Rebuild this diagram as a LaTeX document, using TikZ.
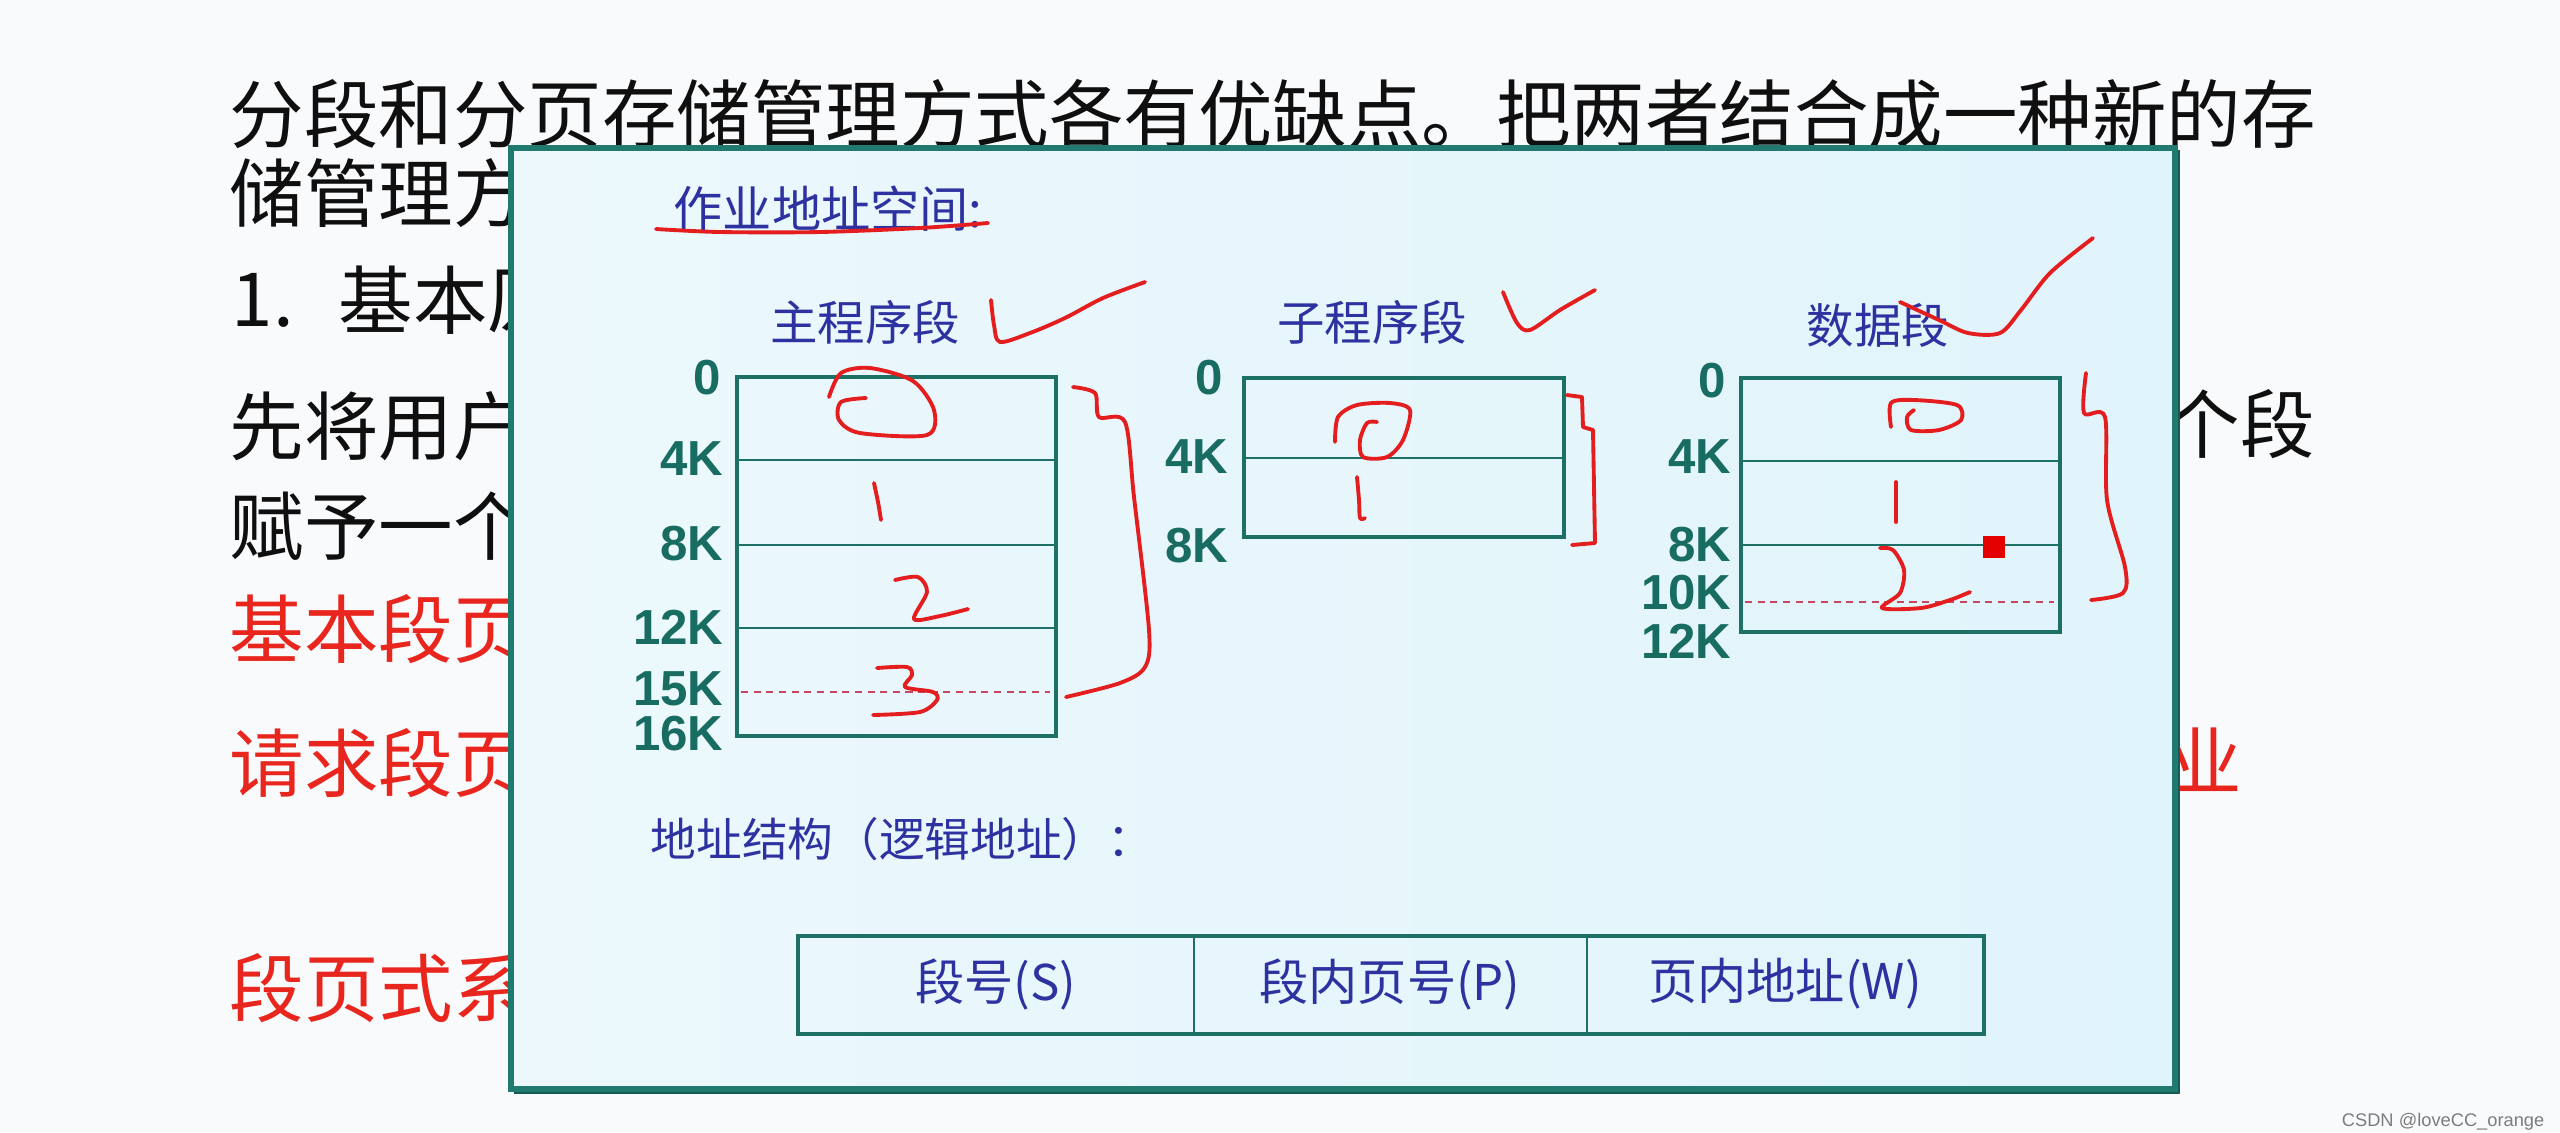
\documentclass[tikz,border=0pt]{standalone}
\usepackage{fontspec}
\setmainfont{Liberation Sans}
\newfontfamily\cjk{Noto Sans CJK SC}
\newfontfamily\lab{Liberation Sans}
\definecolor{pagebg}{RGB}{249,250,252}
\definecolor{txtblack}{RGB}{15,15,15}
\definecolor{txtred}{RGB}{232,38,30}
\definecolor{frameteal}{RGB}{32,122,112}
\definecolor{framedark}{RGB}{22,92,86}
\definecolor{boxfillL}{RGB}{236,248,252}
\definecolor{boxfillR}{RGB}{224,244,251}
\definecolor{segteal}{RGB}{28,112,102}
\definecolor{labteal}{RGB}{24,108,98}
\definecolor{inkblue}{RGB}{45,50,160}
\definecolor{inkred}{RGB}{228,30,30}
\definecolor{dashred}{RGB}{200,70,95}
\definecolor{wmgray}{RGB}{125,125,125}
\tikzset{
  maintext/.style={anchor=west, inner sep=0pt, font=\cjk\fontsize{21.2}{25}\selectfont, text=txtblack},
  redtext/.style={maintext, text=txtred},
  bluetext/.style={inner sep=0pt, font=\cjk\fontsize{13.5}{16}\selectfont, text=inkblue},
  tabtext/.style={inner sep=0pt, font=\cjk\fontsize{14}{16}\selectfont, text=inkblue},
  klabel/.style={anchor=east, inner sep=0pt, font=\lab\bfseries\fontsize{14}{16}\selectfont, text=labteal},
  segbox/.style={draw=segteal, line width=1.1pt},
  segline/.style={draw=segteal, line width=0.65pt},
  dashline/.style={draw=dashred, line width=0.5pt, dash pattern=on 2pt off 1.6pt},
  ink/.style={draw=inkred, line width=1.1pt, line cap=round, line join=round},
}
\begin{document}
\begin{tikzpicture}[x=0.1mm,y=-0.1mm]
\useasboundingbox (0,0) rectangle (2560,1132);
\fill[pagebg] (0,0) rectangle (2560,1132);

% background slide text
\node[maintext] (l1) at (229,114) {分段和分页存储管理方式各有优缺点。把两者结合成一种新的存};
\node[maintext] (l2) at (229,193) {储管理方式};
\node[maintext] (l3a) at (231,300) {1.};
\node[maintext] (l3b) at (338,300) {基本原};
\node[maintext] (l4) at (229,426) {先将用户};
\node[maintext] (l4r) at (2165,424) {个段};
\node[maintext] (l5) at (229,526) {赋予一个};
\node[redtext] (l6) at (229,629) {基本段页};
\node[redtext] (l7) at (229,763) {请求段页};
\node[redtext] (l7r) at (2167,760) {业};
\node[redtext] (l8) at (229,988) {段页式系};

% overlay box
\shade[left color=boxfillL, right color=boxfillR] (511,148) rectangle (2175,1089);
\draw[framedark, line width=1.7pt] (514,1091) -- (2177,1091) -- (2177,150);
\draw[frameteal, line width=1.5pt] (511,148) rectangle (2175,1089);

% headings
\node[bluetext, anchor=west, font=\cjk\fontsize{14}{16}\selectfont] (hd) at (673,209) {作业地址空间:};
\node[bluetext] (tmain) at (865,322) {主程序段};
\node[bluetext] (tsub) at (1372,322) {子程序段};
\node[bluetext] (tdata) at (1878,325) {数据段};

% main program segment
\draw[segbox] (737,377) rectangle (1056,736);
\draw[segline] (737,460) -- (1056,460);
\draw[segline] (737,545) -- (1056,545);
\draw[segline] (737,628) -- (1056,628);
\draw[dashline] (741,692) -- (1050,692);
\node[klabel] (m0) at (722,378) {0};
\node[klabel] (m4) at (724,459) {4K};
\node[klabel] (m8) at (724,544) {8K};
\node[klabel] (m12) at (724,627) {12K};
\node[klabel] (m15) at (724,689) {15K};
\node[klabel] (m16) at (724,734) {16K};

% sub program segment
\draw[segbox] (1244,378) rectangle (1564,537);
\draw[segline] (1244,458) -- (1564,458);
\node[klabel] (s0) at (1224,378) {0};
\node[klabel] (s4) at (1229,457) {4K};
\node[klabel] (s8) at (1229,546) {8K};

% data segment
\draw[segbox] (1741,378) rectangle (2060,632);
\draw[segline] (1741,461) -- (2060,461);
\draw[segline] (1741,545) -- (2060,545);
\draw[dashline] (1745,602) -- (2054,602);
\node[klabel] (d0) at (1727,381) {0};
\node[klabel] (d4) at (1732,457) {4K};
\node[klabel] (d8) at (1732,545) {8K};
\node[klabel] (d10) at (1732,593) {10K};
\node[klabel] (d12) at (1732,641) {12K};
\fill[red!90!black] (1983,536) rectangle (2005,558);

% address structure
\node[bluetext, anchor=west, font=\cjk\fontsize{13}{16}\selectfont] (addr) at (650,839) {地址结构（逻辑地址）：};
\draw[segline, line width=0.7pt] (1194,937) -- (1194,1034);
\draw[segline, line width=0.7pt] (1587,937) -- (1587,1034);
\draw[segbox, line width=1.4pt] (798,936) rectangle (1984,1034);
\node[tabtext] (fs) at (996,984) {段号(S)};
\node[tabtext] (fp) at (1390,984) {段内页号(P)};
\node[tabtext] (fw) at (1785,984) {页内地址(W)};

% hand-drawn annotations
\draw[ink] plot[smooth] coordinates {(656,229) (720,232) (820,232) (920,228) (988,223)};
\draw[ink] plot[smooth] coordinates {(991,300) (994,325) (1000,342) (1030,333) (1065,318) (1103,298) (1145,282)};
\draw[ink] plot[smooth] coordinates {(866,398) (841,402) (839,420) (860,433) (927,435) (934,410) (913,381) (870,368) (841,373) (829,397)};
\draw[ink] plot[smooth] coordinates {(874,483) (878,502) (881,520)};
\draw[ink] plot[smooth] coordinates {(895,580) (918,577) (927,592) (914,619) (940,616) (968,609)};
\draw[ink] plot[smooth] coordinates {(877,668) (907,667) (912,675) (905,687) (933,692) (937,700) (920,712) (873,715)};
\draw[ink] plot[smooth] coordinates {(1073,387) (1095,393) (1099,417) (1125,422) (1134,497) (1149,630) (1145,667) (1120,683) (1066,697)};
\draw[ink] plot[smooth] coordinates {(1503,292) (1517,323) (1530,330) (1560,310) (1595,290)};
\draw[ink] plot[smooth] coordinates {(1335,442) (1338,417) (1357,405) (1390,403) (1410,410) (1403,440) (1387,457) (1363,457) (1360,440) (1367,423) (1377,422)};
\draw[ink] plot[smooth] coordinates {(1357,477) (1359,500) (1360,518) (1365,518)};
\draw[ink] (1567,395) -- (1582,397) -- (1583,427) -- (1593,430) -- (1595,543) -- (1572,545);
\draw[ink] plot[smooth] coordinates {(1900,302) (1939,320) (1968,333) (2000,333) (2021,310) (2050,273) (2093,238)};
\draw[ink] plot[smooth] coordinates {(1891,427) (1891,403) (1914,400) (1957,405) (1961,420) (1939,430) (1911,430) (1907,417) (1914,410)};
\draw[ink] (1896,482) -- (1896,522);
\draw[ink] plot[smooth] coordinates {(1880,548) (1893,550) (1904,570) (1900,593) (1882,608) (1921,608) (1950,600) (1970,592)};
\draw[ink] plot[smooth] coordinates {(2086,373) (2084,413) (2105,417) (2107,500) (2125,567) (2123,593) (2091,600)};

% watermark
\node[anchor=east, inner sep=0pt, font=\lab\fontsize{5.2}{6}\selectfont, text=wmgray] (wm) at (2545,1122) {CSDN @loveCC\_orange};
\end{tikzpicture}
\end{document}
